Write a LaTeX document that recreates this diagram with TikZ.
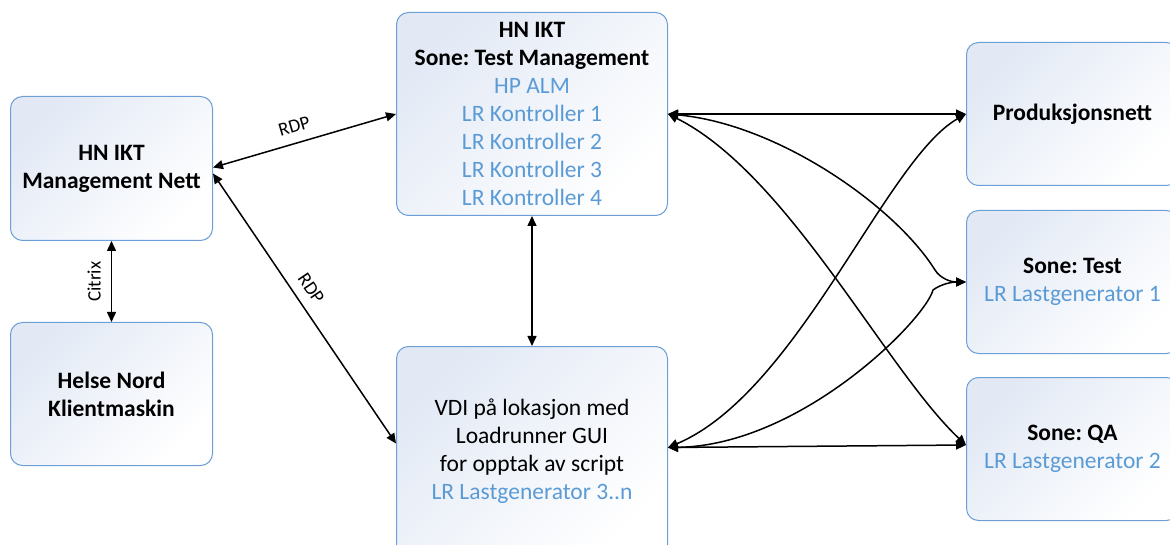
\documentclass[tikz,border=0pt]{standalone}
\usepackage{fontspec}
\setmainfont{Carlito}
\usetikzlibrary{arrows.meta,calc}
\definecolor{bd}{HTML}{6C9FD6}
\definecolor{tb}{HTML}{5B9BD5}
\definecolor{fillc}{HTML}{E2E9F5}
\frenchspacing
\begin{document}
\begin{tikzpicture}[x=1pt,y=-1pt,
  box/.style={draw=bd, line width=1pt, rounded corners=12pt, top color=fillc, bottom color=white, shading angle=45,
    anchor=north west, align=center, font=\fontsize{23.5}{28}\selectfont, inner sep=0pt},
  con/.style={{Triangle[length=10pt,width=9pt]}-{Triangle[length=10pt,width=9pt]}, line width=1.5pt, black},
  lbl/.style={font=\fontsize{19}{22}\selectfont, sloped, above=9pt, inner sep=1pt}]
\useasboundingbox (0,0) rectangle (1170,545);
\clip (0,0) rectangle (1170,545);
\node[box, minimum width=202pt, minimum height=144pt] (mg) at (10,96) {\textbf{HN IKT}\\\textbf{Management Nett}};
\node[box, minimum width=202pt, minimum height=143pt] (kl) at (10,322) {\textbf{Helse Nord}\\\textbf{Klientmaskin}};
\node[box, minimum width=271pt, minimum height=203pt] (tm) at (396,12) {\textbf{HN IKT}\\\textbf{Sone: Test Management}\\\textcolor{tb}{HP ALM}\\\textcolor{tb}{LR Kontroller 1}\\\textcolor{tb}{LR Kontroller 2}\\\textcolor{tb}{LR Kontroller 3}\\\textcolor{tb}{LR Kontroller 4}};
\node[box, minimum width=271pt, minimum height=210pt] (bm) at (396,346) {VDI på lokasjon med\\Loadrunner GUI\\for opptak av script\\\textcolor{tb}{LR Lastgenerator 3..n}};
\node[box, minimum width=212pt, minimum height=143pt] (pr) at (966,42) {\textbf{Produksjonsnett}};
\node[box, minimum width=212pt, minimum height=143pt] (te) at (966,210) {\textbf{Sone: Test}\\\textcolor{tb}{LR Lastgenerator 1}};
\node[box, minimum width=212pt, minimum height=143pt] (qa) at (966,377) {\textbf{Sone: QA}\\\textcolor{tb}{LR Lastgenerator 2}};
% left connectors
\draw[con] ([yshift=1pt]mg.east) -- (tm.west) node[lbl, pos=0.47]{RDP};
\draw[con] ([yshift=-5pt]mg.east) -- ([yshift=8pt]bm.west) node[lbl, pos=0.46]{RDP};
\draw[con] (kl.north) -- (mg.south) node[lbl, midway]{Citrix};
\draw[con] (tm.south) -- (bm.north);
% right connectors
\coordinate (k1) at ($(te.west)+(-31,-12)$);
\coordinate (k2) at ($(te.west)+(-33,8)$);
\draw[con] (tm.east) -- (pr.west);
\draw[con] ([yshift=4pt]bm.east) -- ([yshift=4pt]qa.west);
\draw[con] (tm.east) .. controls +(110,10) and +(-40,-64) .. (k1) .. controls +(5,8) and +(-16,0) .. (te.west);
\draw[con] ([yshift=4pt]bm.east) .. controls +(133,-2) and +(-8,30) .. (k2) .. controls +(8,-6) and +(-14,0) .. (te.west);
\draw[con] (tm.east) .. controls +(120,60) and +(-80,-75) .. ([yshift=4pt]qa.west);
\draw[con] ([yshift=4pt]bm.east) .. controls +(130,-55) and +(-80,45) .. (pr.west);
\end{tikzpicture}
\end{document}
